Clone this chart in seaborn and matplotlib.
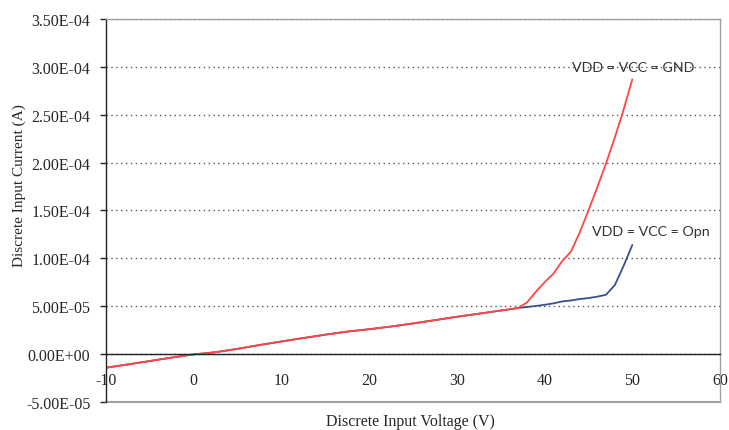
import matplotlib
matplotlib.use("Agg")
import matplotlib.pyplot as plt
import seaborn as sns
import pandas as pd

# shared part of both curves (V, A)
common_v = [-10, -7.5, -5, -2.5, 0, 2.5, 5, 7.5, 10, 12.5, 15, 17.5, 20,
            22.5, 25, 27.5, 30, 32.5, 35, 36, 37]
common_i = [-1.42e-5, -1.08e-5, -0.72e-5, -0.36e-5, -0.03e-5, 0.20e-5, 0.55e-5,
            0.95e-5, 1.32e-5, 1.68e-5, 2.03e-5, 2.35e-5, 2.60e-5, 2.88e-5,
            3.20e-5, 3.55e-5, 3.90e-5, 4.22e-5, 4.55e-5, 4.68e-5, 4.82e-5]

# after the split
tail_v = [38, 39, 40, 41, 42, 43, 44, 45, 46, 47, 48, 49, 50]
gnd_tail = [5.4e-5, 6.5e-5, 7.5e-5, 8.4e-5, 9.7e-5, 1.07e-4, 1.27e-4, 1.50e-4,
            1.74e-4, 1.99e-4, 2.26e-4, 2.55e-4, 2.87e-4]
opn_tail = [4.92e-5, 5.03e-5, 5.15e-5, 5.3e-5, 5.5e-5, 5.6e-5, 5.75e-5, 5.85e-5,
            6.0e-5, 6.2e-5, 7.2e-5, 9.2e-5, 1.14e-4]

x_ticks = [-10, 0, 10, 20, 30, 40, 50, 60]
y_ticks = [-5e-5, 0, 5e-5, 1e-4, 1.5e-4, 2e-4, 2.5e-4, 3e-4, 3.5e-4]

df = pd.concat([
    pd.DataFrame({"V": common_v + tail_v, "I": common_i + opn_tail, "cond": "Opn"}),
    pd.DataFrame({"V": common_v + tail_v, "I": common_i + gnd_tail, "cond": "GND"}),
])

sns.set_style("white")
plt.rcParams["font.family"] = ["Liberation Serif", "DejaVu Serif"]
plt.rcParams["axes.unicode_minus"] = False

fig = plt.figure(figsize=(7.29, 4.31), dpi=100)
ax = fig.add_axes([0.1454, 0.065, 0.8423, 0.8886])

sns.lineplot(data=df, x="V", y="I", hue="cond", hue_order=["Opn", "GND"],
             palette={"Opn": "#3b4f8c", "GND": "#ff4545"}, linewidth=1.3,
             sort=False, legend=False, ax=ax)

ax.set_xlim(-10, 60)
ax.set_ylim(-5e-5, 3.5e-4)
ax.set_xticks(x_ticks)
ax.set_yticks(y_ticks)
ax.set_yticklabels([f"{v:.2E}" for v in y_ticks])

ax.yaxis.grid(True, linestyle=(0, (1, 2.5)), color="#555555", linewidth=1.0)
ax.set_axisbelow(True)

ax.spines["bottom"].set_position(("data", 0))
ax.spines["bottom"].set_color("#222222")
ax.spines["left"].set_color("#222222")
ax.spines["top"].set_color("#a0a0a0")
ax.spines["right"].set_color("#a0a0a0")
for s in ax.spines.values():
    s.set_linewidth(1.0)
ax.axhline(-5e-5, color="#a0a0a0", linewidth=1.5, clip_on=False)

ax.tick_params(axis="x", direction="inout", length=8, width=1, color="#222222",
               pad=9, labelsize=11.5)
ax.tick_params(axis="y", direction="out", length=4.3, width=1, color="#222222",
               pad=7, labelsize=11.5, left=True)

ax.set_xlabel("Discrete Input Voltage (V)", fontsize=11.5)
ax.set_ylabel("Discrete Input Current (A)", fontsize=11)
ax.xaxis.set_label_coords(0.495, -0.029)
ax.yaxis.set_label_coords(-0.130, 0.569)

lab = ["Lato", "DejaVu Sans"]
ax.text(50.1, 3.0e-4, "VDD = VCC = GND", family=lab, fontsize=10.3,
        ha="center", va="center", color="#333333")
ax.text(52.1, 1.29e-4, "VDD = VCC = Opn", family=lab, fontsize=10.3,
        ha="center", va="center", color="#333333")

fig.savefig("out.png", dpi=100)
